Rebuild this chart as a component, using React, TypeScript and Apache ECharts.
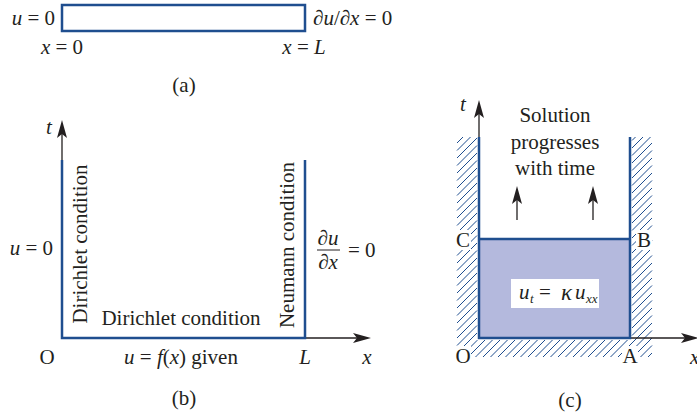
import React, { useEffect, useRef } from "react";
import * as echarts from "echarts";

const W = 697;
const H = 413;
const BLUE = "#1f4e8f";
const INK = "#231f20";
const FILL = "#b4b9dd";
const FONT = '"Liberation Serif", "Times New Roman", serif';
const FS = 21;

// labels
const panelLabels = ["(a)", "(b)", "(c)"];
const pointLabels = ["O", "A", "B", "C"];
const conditionLabels = ["Dirichlet condition", "Dirichlet condition", "Neumann condition"];
const solutionLines = ["Solution", "progresses", "with time"];

type Opt = { size?: number; italic?: boolean; align?: string; vAlign?: string; rot?: number; fill?: string; rich?: boolean };

const RICH = {
  i: { fontStyle: "italic", fontSize: FS, fontFamily: FONT, fill: INK, color: INK },
  r: { fontSize: FS, fontFamily: FONT, fill: INK, color: INK },
};

function txt(text: string, x: number, y: number, o: Opt = {}) {
  const size = o.size ?? FS;
  const align = o.align ?? "center";
  const va = o.vAlign ?? "middle";
  const style: any = {
    text,
    font: `${o.italic ? "italic " : ""}${size}px ${FONT}`,
    fill: o.fill ?? INK,
    align,
    textAlign: align,
    verticalAlign: va,
    textVerticalAlign: va,
  };
  if (o.rich) style.rich = RICH;
  return { type: "text", x, y, rotation: o.rot ?? 0, silent: true, z: 10, style };
}

function line(x1: number, y1: number, x2: number, y2: number, stroke = INK, lw = 1.3, z = 5) {
  return { type: "line", z, silent: true, shape: { x1, y1, x2, y2 }, style: { stroke, lineWidth: lw } };
}

function arrowUp(x: number, tip: number, len = 18, half = 5) {
  return {
    type: "polygon",
    z: 6,
    silent: true,
    shape: { points: [[x, tip], [x - half, tip + len], [x, tip + len - 4], [x + half, tip + len]] },
    style: { fill: INK },
  };
}
function arrowRight(tip: number, y: number, len = 18, half = 5) {
  return {
    type: "polygon",
    z: 6,
    silent: true,
    shape: { points: [[tip, y], [tip - len, y - half], [tip - len + 4, y], [tip - len, y + half]] },
    style: { fill: INK },
  };
}

function hatch(x0: number, y0: number, x1: number, y1: number, step: number, phase = 0) {
  const out: any[] = [];
  const cMin = x0 + y0;
  const cMax = x1 + y1;
  for (let c = Math.ceil((cMin - phase) / step) * step + phase; c <= cMax; c += step) {
    const xa = Math.max(x0, c - y1);
    const xb = Math.min(x1, c - y0);
    if (xb - xa < 0.5) continue;
    out.push(line(xa, c - xa, xb, c - xb, BLUE, 1, 1));
  }
  return out;
}

function buildGraphics() {
  const g: any[] = [];
  // ---------- Panel (a) ----------
  g.push({ type: "rect", z: 4, shape: { x: 62, y: 5, width: 243, height: 26 }, style: { fill: "#fff", stroke: BLUE, lineWidth: 2.5 } });
  g.push(txt("{i|u}{r| = 0}", 55, 18, { align: "right", rich: true }));
  g.push(txt("{r|∂}{i|u}{r|/∂}{i|x}{r| = 0}", 313, 18, { align: "left", rich: true }));
  g.push(txt("{i|x}{r| = 0}", 62, 47, { rich: true }));
  g.push(txt("{i|x}{r| = }{i|L}", 304, 47, { rich: true }));
  g.push(txt(panelLabels[0], 184, 85));

  // ---------- Panel (b) ----------
  g.push(line(62, 338, 62, 128));
  g.push(arrowUp(62, 120));
  g.push(line(62, 338, 362, 338));
  g.push(arrowRight(371, 338));
  g.push({
    type: "polyline",
    z: 6,
    shape: { points: [[62, 160], [62, 338], [305, 338], [305, 160]] },
    style: { stroke: BLUE, lineWidth: 2.5, fill: null },
  });
  g.push(txt("t", 49, 127, { italic: true }));
  g.push(txt("{i|u}{r| = 0}", 53, 248, { align: "right", rich: true }));
  g.push(txt(conditionLabels[0], 80, 244, { rot: Math.PI / 2 }));
  g.push(txt(conditionLabels[1], 181, 318));
  g.push(txt(conditionLabels[2], 287, 245, { rot: Math.PI / 2 }));
  g.push(txt("{r|∂}{i|u}", 328, 238, { rich: true }));
  g.push(line(317, 250, 340, 250, INK, 1));
  g.push(txt("{r|∂}{i|x}", 328, 262, { rich: true }));
  g.push(txt("= 0", 348, 250, { align: "left" }));
  g.push(txt(pointLabels[0], 47, 357));
  g.push(txt("{i|u}{r| = }{i|f}{r|(}{i|x}{r|) given}", 181, 357, { rich: true }));
  g.push(txt("L", 305, 357, { italic: true }));
  g.push(txt("x", 367, 357, { italic: true }));
  g.push(txt(panelLabels[1], 184, 398));

  // ---------- Panel (c) ----------
  g.push(...hatch(457, 137, 477, 357, 7.5));
  g.push(...hatch(477, 340, 632, 357, 7.5));
  g.push(...hatch(632, 137, 652, 357, 7.5));
  g.push({ type: "rect", z: 3, shape: { x: 479, y: 239, width: 151, height: 99 }, style: { fill: FILL } });
  g.push(line(479, 338, 479, 108));
  g.push(arrowUp(479, 100));
  g.push(line(630, 338, 690, 338));
  g.push(arrowRight(699, 338));
  g.push({
    type: "polyline",
    z: 6,
    shape: { points: [[479, 137], [479, 338], [630, 338], [630, 137]] },
    style: { stroke: BLUE, lineWidth: 2.5, fill: null },
  });
  g.push(line(479, 239, 630, 239, BLUE, 2.5, 6));
  g.push(txt("t", 463, 104, { italic: true }));
  const lab = (s: string, x: number, y: number) => {
    g.push({ type: "rect", z: 8, shape: { x: x - 8, y: y - 10, width: 16, height: 20 }, style: { fill: "#fff" } });
    g.push(txt(s, x, y));
  };
  lab(pointLabels[3], 463, 240);
  lab(pointLabels[2], 644, 240);
  lab(pointLabels[0], 463, 356);
  lab(pointLabels[1], 630, 356);
  // equation box
  g.push({ type: "rect", z: 8, shape: { x: 511, y: 279, width: 88, height: 29 }, style: { fill: "#fff" } });
  g.push(txt("u", 519, 292, { italic: true, align: "left" }));
  g.push(txt("t", 530, 298, { italic: true, align: "left", size: 13 }));
  g.push(txt("=", 539, 292, { align: "left" }));
  g.push(txt("κ", 561, 292, { italic: true, align: "left", size: 23 }));
  g.push(txt("u", 575, 292, { italic: true, align: "left" }));
  g.push(txt("xx", 586, 298, { italic: true, align: "left", size: 13 }));
  solutionLines.forEach((s, i) => g.push(txt(s, 555, [115, 142, 168][i])));
  g.push(line(517, 220, 517, 195));
  g.push(arrowUp(517, 186));
  g.push(line(593, 220, 593, 195));
  g.push(arrowUp(593, 186));
  g.push(txt("x", 690, 357, { italic: true, align: "left" }));
  g.push(txt(panelLabels[2], 570, 400));
  return g;
}

export default function App() {
  const ref = useRef<HTMLDivElement>(null);
  useEffect(() => {
    if (!ref.current) return;
    const chart = echarts.init(ref.current, undefined, { renderer: "svg" });
    chart.setOption({
      animation: false,
      backgroundColor: "#fff",
      graphic: { elements: buildGraphics() },
    });
    return () => chart.dispose();
  }, []);
  return <div ref={ref} style={{ position: "fixed", left: 0, top: 0, width: W, height: H }} />;
}
